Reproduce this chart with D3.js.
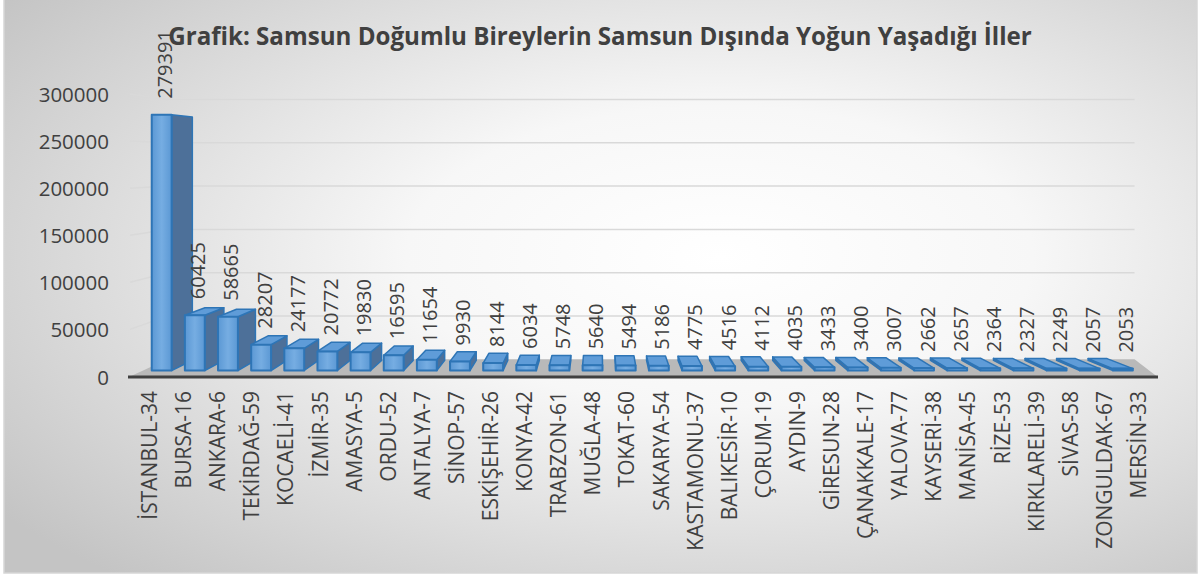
<!DOCTYPE html>
<html>
<head>
<meta charset="utf-8">
<script src="https://cdn.jsdelivr.net/npm/d3@7"></script>
<style>
  body { margin: 0; background: #fff; }
  text { font-family: 'Open Sans', sans-serif; fill: #404040; }
</style>
</head>
<body>
<div id="chart"></div>
<script>
const title = 'Grafik: Samsun Doğumlu Bireylerin Samsun Dışında Yoğun Yaşadığı İller';

const categories = [
  'İSTANBUL-34', 'BURSA-16', 'ANKARA-6', 'TEKİRDAĞ-59', 'KOCAELİ-41', 'İZMİR-35',
  'AMASYA-5', 'ORDU-52', 'ANTALYA-7', 'SİNOP-57', 'ESKİŞEHİR-26', 'KONYA-42',
  'TRABZON-61', 'MUĞLA-48', 'TOKAT-60', 'SAKARYA-54', 'KASTAMONU-37', 'BALIKESİR-10',
  'ÇORUM-19', 'AYDIN-9', 'GİRESUN-28', 'ÇANAKKALE-17', 'YALOVA-77', 'KAYSERİ-38',
  'MANİSA-45', 'RİZE-53', 'KIRKLARELİ-39', 'SİVAS-58', 'ZONGULDAK-67', 'MERSİN-33'
];

const values = [
  279391, 60425, 58665, 28207, 24177, 20772,
  19830, 16595, 11654, 9930, 8144, 6034,
  5748, 5640, 5494, 5186, 4775, 4516,
  4112, 4035, 3433, 3400, 3007, 2662,
  2657, 2364, 2327, 2249, 2057, 2053
];

const yTicks = [0, 50000, 100000, 150000, 200000, 250000, 300000];

const data = categories.map((c, i) => ({ cat: c, value: values[i] }));

const w = 1200;
const h = 576;

// simple perspective: points are pulled toward a vanishing point as depth grows
const vp = [600, 162];
const S_FRONT = 0.972;
const S_BACK = 0.925;
const S_WALL = 0.92;
const proj = (px, py, s) => [vp[0] + s * (px - vp[0]), vp[1] + s * (py - vp[1])];

const floorLeft = 130;
const floorRight = 1157;
const wallRight = 1181;

const x = d3.scaleBand()
  .domain(categories)
  .range([132, 1155])
  .paddingInner(0.4)
  .paddingOuter(0.2);

const y = d3.scaleLinear()
  .domain([0, 300000])
  .range([376.5, 94]);

const svg = d3.select('#chart')
  .append('svg')
    .attr('width', w)
    .attr('height', h);

const defs = svg.append('defs');

const bg = defs.append('radialGradient')
  .attr('id', 'bg')
  .attr('cx', '60%').attr('cy', '45%').attr('r', '75%');
bg.append('stop').attr('offset', '0%').attr('stop-color', '#ffffff');
bg.append('stop').attr('offset', '35%').attr('stop-color', '#f7f7f7');
bg.append('stop').attr('offset', '100%').attr('stop-color', '#c4c4c4');

const front = defs.append('linearGradient')
  .attr('id', 'front')
  .attr('x1', 0).attr('x2', 1).attr('y1', 0).attr('y2', 0);
front.append('stop').attr('offset', '0%').attr('stop-color', '#5b98d4');
front.append('stop').attr('offset', '50%').attr('stop-color', '#76ade2');
front.append('stop').attr('offset', '100%').attr('stop-color', '#5b98d4');

svg.append('rect')
  .attr('x', 4)
  .attr('y', -2)
  .attr('width', 1193)
  .attr('height', 575)
  .attr('fill', 'url(#bg)')
  .attr('stroke', '#d6d6d6')
  .attr('stroke-width', 1.5);

// floor
const floorPts = [
  [floorLeft, y(0)], [floorRight, y(0)],
  proj(wallRight, y(0), S_WALL), proj(floorLeft, y(0), S_WALL)
];
svg.append('polygon')
  .attr('points', floorPts.map(p => p.join(',')).join(' '))
  .attr('fill', '#b9b9b9');

// gridlines: short slant on the left wall, then along the back wall
const line = d3.line();
svg.append('g')
  .selectAll('path')
  .data(yTicks.slice(1))
  .enter()
  .append('path')
    .attr('d', t => line([
      [floorLeft, y(t)],
      proj(floorLeft, y(t), S_WALL),
      proj(wallRight, y(t), S_WALL)
    ]))
    .attr('fill', 'none')
    .attr('stroke', '#d9d9d9')
    .attr('stroke-width', 1.5);

// y axis labels
svg.append('g')
  .selectAll('text')
  .data(yTicks)
  .enter()
  .append('text')
    .attr('x', 109)
    .attr('y', t => y(t))
    .attr('text-anchor', 'end')
    .attr('dominant-baseline', 'central')
    .style('font-size', '20.5px')
    .text(t => t);

// bars, drawn from the outside in so that nearer faces cover farther ones
const bw = x.bandwidth();
const order = data.slice().sort((a, b) =>
  Math.abs(x(b.cat) + bw / 2 - vp[0]) - Math.abs(x(a.cat) + bw / 2 - vp[0]));

const pts = arr => arr.map(p => p.join(',')).join(' ');

const bars = svg.append('g')
  .selectAll('.bar')
  .data(order)
  .enter()
  .append('g')
    .attr('class', 'bar');

bars.each(function(d) {
  const g = d3.select(this);
  const xl = x(d.cat);
  const xr = xl + bw;
  const yt = y(d.value);
  const yb = y(0);
  const f = [proj(xl, yt, S_FRONT), proj(xr, yt, S_FRONT), proj(xr, yb, S_FRONT), proj(xl, yb, S_FRONT)];
  const b = [proj(xl, yt, S_BACK), proj(xr, yt, S_BACK), proj(xr, yb, S_BACK), proj(xl, yb, S_BACK)];

  if (xr < vp[0]) {
    g.append('polygon')
      .attr('points', pts([f[1], b[1], b[2], f[2]]))
      .attr('fill', '#4d7099')
      .attr('stroke', '#2e75b6')
      .attr('stroke-width', 1.5)
      .attr('stroke-linejoin', 'round');
  }
  if (xl > vp[0]) {
    g.append('polygon')
      .attr('points', pts([f[0], b[0], b[3], f[3]]))
      .attr('fill', '#4d7099')
      .attr('stroke', '#2e75b6')
      .attr('stroke-width', 1.5)
      .attr('stroke-linejoin', 'round');
  }
  if (yt > vp[1]) {
    g.append('polygon')
      .attr('points', pts([f[0], f[1], b[1], b[0]]))
      .attr('fill', '#5f9cd8')
      .attr('stroke', '#2e75b6')
      .attr('stroke-width', 1.5)
      .attr('stroke-linejoin', 'round');
  }
  g.append('polygon')
    .attr('points', pts(f))
    .attr('fill', 'url(#front)')
    .attr('stroke', '#2e75b6')
    .attr('stroke-width', 2)
    .attr('stroke-linejoin', 'round');
});

// front edge of the floor
svg.append('line')
  .attr('x1', floorLeft - 2)
  .attr('x2', floorRight + 1)
  .attr('y1', y(0) + 0.5)
  .attr('y2', y(0) + 0.5)
  .attr('stroke', '#404040')
  .attr('stroke-width', 3);

// value labels
svg.append('g')
  .selectAll('text')
  .data(data)
  .enter()
  .append('text')
    .attr('transform', d => {
      const p = proj(x(d.cat) + bw / 2, y(d.value), S_FRONT);
      return `translate(${p[0] + 3}, ${p[1] - 16}) rotate(-90)`;
    })
    .attr('text-anchor', 'start')
    .attr('dominant-baseline', 'central')
    .style('font-size', '20px')
    .text(d => d.value);

// category labels
svg.append('g')
  .selectAll('text')
  .data(categories)
  .enter()
  .append('text')
    .attr('transform', c => `translate(${x(c) + bw / 2}, 391) rotate(-90)`)
    .attr('text-anchor', 'end')
    .attr('dominant-baseline', 'central')
    .style('font-size', '21px')
    .text(c => c);

// title, sized to the width it takes in the original
const t = svg.append('text')
  .attr('x', 600)
  .attr('y', 45)
  .attr('text-anchor', 'middle')
  .style('font-size', '24px')
  .style('font-weight', 'bold')
  .text(title);
const len = t.node().getComputedTextLength();
t.style('font-size', `${(24 * 864 / len).toFixed(2)}px`);
</script>
</body>
</html>
